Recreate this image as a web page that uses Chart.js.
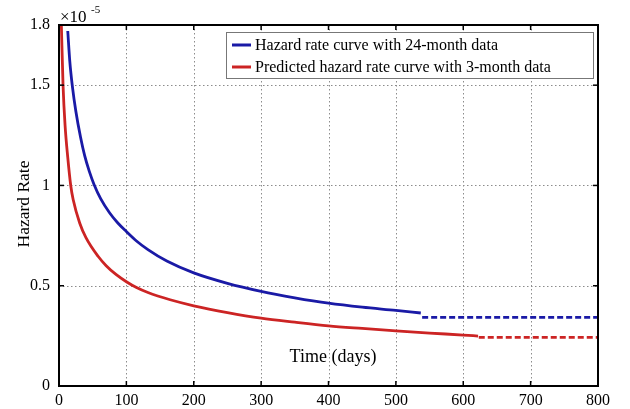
<!DOCTYPE html>
<html><head><meta charset="utf-8">
<script src="https://cdn.jsdelivr.net/npm/chart.js@4.4.1/dist/chart.umd.min.js"></script>
<style>html,body{margin:0;padding:0;background:#fff}</style>
</head><body>
<canvas id="c" width="630" height="409"></canvas>
<script>
// ---- data ----
const xTicks = [0, 100, 200, 300, 400, 500, 600, 700, 800];
const yTicks = [0, 0.5, 1, 1.5, 1.8];
const seriesLabels = ['Hazard rate curve with 24-month data', 'Predicted hazard rate curve with 3-month data'];

const blueDays = [13, 16, 20, 25, 32, 38, 45, 52, 62, 75, 87, 100, 115, 132, 160, 200, 250, 300, 350, 400, 450, 500, 537];
const blueRate = [1.77, 1.62, 1.49, 1.37, 1.24, 1.15, 1.07, 1.005, 0.933, 0.864, 0.814, 0.77, 0.723, 0.68, 0.623, 0.564, 0.512, 0.472, 0.44, 0.413, 0.393, 0.377, 0.364];
const blueTailDays = [539, 800];
const blueTailRate = [0.342, 0.342];

const redDays = [3.5, 6, 9, 13, 17.4, 21, 30.7, 40, 58, 70, 85, 100, 115, 132, 165, 200, 250, 300, 350, 400, 450, 500, 550, 600, 622];
const redRate = [1.80, 1.50, 1.30, 1.14, 1.00, 0.93, 0.813, 0.74, 0.647, 0.60, 0.555, 0.52, 0.491, 0.466, 0.43, 0.40, 0.366, 0.338, 0.318, 0.300, 0.287, 0.275, 0.264, 0.254, 0.249];
const redTailDays = [623, 800];
const redTailRate = [0.242, 0.242];

const BLUE = '#1a1aa6', RED = '#cc2424';
const SERIF = '"Liberation Serif", "Times New Roman", serif';

const pts = (xs, ys) => xs.map((d, i) => ({x: d, y: ys[i]}));

const deco = {
  id: 'deco',
  beforeDatasetsDraw(chart) {
    const {ctx, chartArea: a, scales: {x, y}} = chart;
    ctx.save();
    ctx.strokeStyle = '#8c8c8c'; ctx.lineWidth = 1; ctx.setLineDash([1.5, 2.5]);
    xTicks.forEach(v => {
      if (v > xTicks[0] && v < xTicks[xTicks.length - 1]) {
        const px = Math.round(x.getPixelForValue(v)) + 0.5;
        ctx.beginPath(); ctx.moveTo(px, a.top); ctx.lineTo(px, a.bottom); ctx.stroke();
      }
    });
    yTicks.forEach(v => {
      if (v > yTicks[0] && v < yTicks[yTicks.length - 1]) {
        const py = Math.round(y.getPixelForValue(v)) + 0.5;
        ctx.beginPath(); ctx.moveTo(a.left, py); ctx.lineTo(a.right, py); ctx.stroke();
      }
    });
    ctx.restore();
    // x title inside plot
    ctx.save();
    ctx.fillStyle = '#000'; ctx.font = '18px ' + SERIF; ctx.textAlign = 'center'; ctx.textBaseline = 'middle';
    ctx.fillText('Time (days)', 333, 357);
    ctx.restore();
  },
  afterDatasetsDraw(chart) {
    const {ctx, chartArea: a, scales: {x, y}} = chart;
    ctx.save();
    // tick marks inward on all four sides
    ctx.strokeStyle = '#000'; ctx.lineWidth = 1.5; ctx.setLineDash([]);
    const tl = 5;
    xTicks.forEach(v => {
      const px = x.getPixelForValue(v);
      ctx.beginPath(); ctx.moveTo(px, a.bottom); ctx.lineTo(px, a.bottom - tl); ctx.stroke();
      ctx.beginPath(); ctx.moveTo(px, a.top); ctx.lineTo(px, a.top + tl); ctx.stroke();
    });
    yTicks.forEach(v => {
      const py = y.getPixelForValue(v);
      ctx.beginPath(); ctx.moveTo(a.left, py); ctx.lineTo(a.left + tl, py); ctx.stroke();
      ctx.beginPath(); ctx.moveTo(a.right, py); ctx.lineTo(a.right - tl, py); ctx.stroke();
    });
    // frame
    ctx.lineWidth = 2;
    ctx.strokeRect(a.left, a.top, a.right - a.left, a.bottom - a.top);
    // legend
    const lx = 226, ly = 32, lw = 367, lh = 46;
    ctx.fillStyle = '#fff'; ctx.fillRect(lx, ly, lw, lh);
    ctx.strokeStyle = '#777'; ctx.lineWidth = 1;
    ctx.strokeRect(lx + 0.5, ly + 0.5, lw, lh);
    ctx.font = '16px ' + SERIF; ctx.textBaseline = 'middle'; ctx.textAlign = 'left'; ctx.fillStyle = '#000';
    [BLUE, RED].forEach((c, i) => {
      const yy = ly + 13 + i * 22;
      ctx.strokeStyle = c; ctx.lineWidth = 3;
      ctx.beginPath(); ctx.moveTo(232, yy); ctx.lineTo(251, yy); ctx.stroke();
      ctx.fillText(seriesLabels[i], 255, yy + 1);
    });
    // exponent
    ctx.font = '17px ' + SERIF; ctx.textBaseline = 'alphabetic';
    ctx.fillText('\u00d710', 60, 22);
    ctx.font = '11px ' + SERIF;
    ctx.fillText('-5', 91, 13);
    // y title
    ctx.translate(24, 204); ctx.rotate(-Math.PI / 2);
    ctx.font = '17.5px ' + SERIF; ctx.textAlign = 'center'; ctx.textBaseline = 'middle';
    ctx.fillText('Hazard Rate', 0, 0);
    ctx.restore();
  }
};

const common = {pointRadius: 0, borderWidth: 2.8, fill: false, cubicInterpolationMode: 'monotone'};

new Chart(document.getElementById('c'), {
  type: 'line',
  data: {
    datasets: [
      {...common, label: seriesLabels[0], data: pts(blueDays, blueRate), borderColor: BLUE},
      {...common, label: seriesLabels[0] + ' (ext)', data: pts(blueTailDays, blueTailRate), borderColor: BLUE, borderDash: [6, 3]},
      {...common, label: seriesLabels[1], data: pts(redDays, redRate), borderColor: RED},
      {...common, label: seriesLabels[1] + ' (ext)', data: pts(redTailDays, redTailRate), borderColor: RED, borderDash: [6, 3]}
    ]
  },
  options: {
    responsive: false, animation: false, devicePixelRatio: 1,
    layout: {padding: {left: 0, right: 32, top: 25, bottom: 0}},
    plugins: {legend: {display: false}, tooltip: {enabled: false}},
    scales: {
      x: {
        type: 'linear', min: 0, max: 800,
        afterBuildTicks: s => { s.ticks = xTicks.map(v => ({value: v})); },
        afterFit: s => { s.height = 23; },
        grid: {display: false, drawTicks: false}, border: {display: false},
        ticks: {padding: 5, color: '#000', font: {family: SERIF, size: 16}, maxRotation: 0, autoSkip: false}
      },
      y: {
        type: 'linear', min: 0, max: 1.8,
        afterBuildTicks: s => { s.ticks = yTicks.map(v => ({value: v})); },
        afterFit: s => { s.width = 59; },
        grid: {display: false, drawTicks: false}, border: {display: false},
        ticks: {padding: 9, color: '#000', font: {family: SERIF, size: 16}, autoSkip: false, callback: v => String(v)}
      }
    }
  },
  plugins: [deco]
});
</script>
</body></html>
